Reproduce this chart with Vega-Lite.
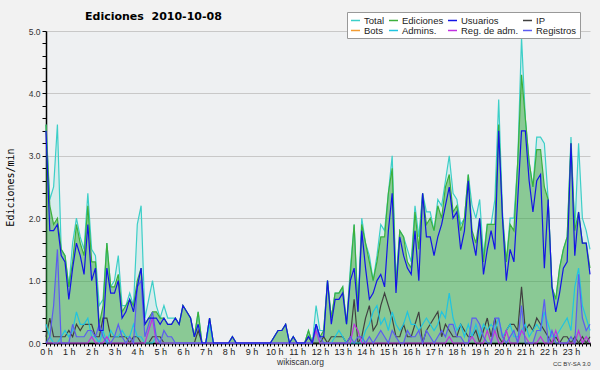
{
  "$schema": "https://vega.github.io/schema/vega-lite/v6.json",
  "autosize": "none",
  "width": 544,
  "height": 312,
  "padding": {"left": 46, "top": 31, "right": 10, "bottom": 27},
  "background": "#f2f2f2",
  "config": {
    "view": {"fill": "#eef0f2", "stroke": null},
    "font": "Liberation Sans"
  },
  "title": {
    "text": "Ediciones\u00a0 2010-10-08",
    "anchor": "start",
    "frame": "group",
    "dx": 39,
    "offset": -19,
    "baseline": "alphabetic",
    "font": "DejaVu Sans",
    "fontSize": 11,
    "fontWeight": "bold",
    "color": "#000"
  },
  "data": {"values": [
    {"t":0,"Total":3.5,"Ediciones":3.5,"Usuarios":3.4,"IP":0.1,"Admins":0.3,"RegAdm":0,"Registros":0},
    {"t":10,"Total":2.3,"Ediciones":2.2,"Usuarios":1.8,"IP":0.4,"Admins":0.1,"RegAdm":0,"Registros":0.1},
    {"t":20,"Total":2.5,"Ediciones":1.9,"Usuarios":1.8,"IP":0.1,"Admins":0,"RegAdm":0,"Registros":0.6},
    {"t":30,"Total":3.5,"Ediciones":2.0,"Usuarios":1.9,"IP":0.1,"Admins":0,"RegAdm":0,"Registros":1.5},
    {"t":40,"Total":1.5,"Ediciones":1.5,"Usuarios":1.4,"IP":0.1,"Admins":0.1,"RegAdm":0,"Registros":0},
    {"t":50,"Total":1.4,"Ediciones":1.4,"Usuarios":1.3,"IP":0.1,"Admins":0.2,"RegAdm":0,"Registros":0},
    {"t":60,"Total":0.9,"Ediciones":0.9,"Usuarios":0.7,"IP":0.2,"Admins":0.1,"RegAdm":0,"Registros":0},
    {"t":70,"Total":1.6,"Ediciones":1.3,"Usuarios":1.2,"IP":0.1,"Admins":0.2,"RegAdm":0,"Registros":0.3},
    {"t":80,"Total":2.0,"Ediciones":1.9,"Usuarios":1.6,"IP":0.3,"Admins":0.5,"RegAdm":0,"Registros":0.1},
    {"t":90,"Total":1.7,"Ediciones":1.6,"Usuarios":1.4,"IP":0.2,"Admins":0.3,"RegAdm":0,"Registros":0.1},
    {"t":100,"Total":1.5,"Ediciones":1.4,"Usuarios":1.1,"IP":0.3,"Admins":0.3,"RegAdm":0,"Registros":0.1},
    {"t":110,"Total":2.4,"Ediciones":2.2,"Usuarios":1.9,"IP":0.3,"Admins":0.4,"RegAdm":0,"Registros":0.2},
    {"t":120,"Total":1.5,"Ediciones":1.3,"Usuarios":1.0,"IP":0.3,"Admins":0.1,"RegAdm":0.1,"Registros":0.2},
    {"t":130,"Total":1.4,"Ediciones":1.3,"Usuarios":1.2,"IP":0.1,"Admins":0.1,"RegAdm":0,"Registros":0.1},
    {"t":140,"Total":0.6,"Ediciones":0.3,"Usuarios":0.2,"IP":0.1,"Admins":0,"RegAdm":0,"Registros":0.3},
    {"t":150,"Total":0.7,"Ediciones":0.6,"Usuarios":0.2,"IP":0.4,"Admins":0.2,"RegAdm":0,"Registros":0.1},
    {"t":160,"Total":1.6,"Ediciones":1.6,"Usuarios":1.2,"IP":0.4,"Admins":0,"RegAdm":0.1,"Registros":0},
    {"t":170,"Total":0.9,"Ediciones":0.9,"Usuarios":0.8,"IP":0.1,"Admins":0.2,"RegAdm":0,"Registros":0},
    {"t":180,"Total":1.0,"Ediciones":0.9,"Usuarios":0.8,"IP":0.1,"Admins":0.1,"RegAdm":0,"Registros":0.1},
    {"t":190,"Total":1.4,"Ediciones":1.1,"Usuarios":1.0,"IP":0.1,"Admins":0.1,"RegAdm":0,"Registros":0.3},
    {"t":200,"Total":0.6,"Ediciones":0.5,"Usuarios":0.4,"IP":0.1,"Admins":0.2,"RegAdm":0,"Registros":0.1},
    {"t":210,"Total":0.6,"Ediciones":0.6,"Usuarios":0.5,"IP":0.1,"Admins":0.1,"RegAdm":0,"Registros":0},
    {"t":220,"Total":0.8,"Ediciones":0.7,"Usuarios":0.7,"IP":0,"Admins":0.1,"RegAdm":0,"Registros":0.1},
    {"t":230,"Total":0.6,"Ediciones":0.6,"Usuarios":0.5,"IP":0.1,"Admins":0.3,"RegAdm":0,"Registros":0},
    {"t":240,"Total":1.9,"Ediciones":1.0,"Usuarios":0.9,"IP":0.1,"Admins":0.1,"RegAdm":0,"Registros":0.9},
    {"t":250,"Total":2.2,"Ediciones":1.2,"Usuarios":1.2,"IP":0,"Admins":0.1,"RegAdm":0,"Registros":1.0},
    {"t":260,"Total":0.4,"Ediciones":0.3,"Usuarios":0.3,"IP":0,"Admins":0,"RegAdm":0,"Registros":0.1},
    {"t":270,"Total":0.7,"Ediciones":0.4,"Usuarios":0.4,"IP":0,"Admins":0,"RegAdm":0.2,"Registros":0.3},
    {"t":280,"Total":1.0,"Ediciones":0.5,"Usuarios":0.4,"IP":0.1,"Admins":0,"RegAdm":0.4,"Registros":0.5},
    {"t":290,"Total":0.6,"Ediciones":0.5,"Usuarios":0.4,"IP":0.1,"Admins":0.1,"RegAdm":0,"Registros":0.1},
    {"t":300,"Total":0.4,"Ediciones":0.4,"Usuarios":0.3,"IP":0.1,"Admins":0,"RegAdm":0,"Registros":0},
    {"t":310,"Total":0.6,"Ediciones":0.4,"Usuarios":0.4,"IP":0,"Admins":0,"RegAdm":0,"Registros":0.2},
    {"t":320,"Total":0.4,"Ediciones":0.3,"Usuarios":0.3,"IP":0,"Admins":0,"RegAdm":0,"Registros":0.1},
    {"t":330,"Total":0.4,"Ediciones":0.3,"Usuarios":0.3,"IP":0,"Admins":0,"RegAdm":0,"Registros":0.1},
    {"t":340,"Total":0.4,"Ediciones":0.4,"Usuarios":0.4,"IP":0,"Admins":0,"RegAdm":0,"Registros":0},
    {"t":350,"Total":0.3,"Ediciones":0.3,"Usuarios":0.3,"IP":0,"Admins":0,"RegAdm":0,"Registros":0},
    {"t":360,"Total":0.6,"Ediciones":0.6,"Usuarios":0.6,"IP":0,"Admins":0,"RegAdm":0,"Registros":0},
    {"t":370,"Total":0.5,"Ediciones":0.5,"Usuarios":0.5,"IP":0,"Admins":0,"RegAdm":0,"Registros":0},
    {"t":380,"Total":0.4,"Ediciones":0.4,"Usuarios":0.4,"IP":0,"Admins":0,"RegAdm":0,"Registros":0},
    {"t":390,"Total":0.1,"Ediciones":0.1,"Usuarios":0.1,"IP":0,"Admins":0,"RegAdm":0,"Registros":0},
    {"t":400,"Total":0.5,"Ediciones":0.5,"Usuarios":0.3,"IP":0.2,"Admins":0,"RegAdm":0,"Registros":0},
    {"t":410,"Total":0,"Ediciones":0,"Usuarios":0,"IP":0,"Admins":0,"RegAdm":0,"Registros":0},
    {"t":420,"Total":0,"Ediciones":0,"Usuarios":0,"IP":0,"Admins":0,"RegAdm":0,"Registros":0},
    {"t":430,"Total":0.4,"Ediciones":0.4,"Usuarios":0.4,"IP":0,"Admins":0.3,"RegAdm":0,"Registros":0},
    {"t":440,"Total":0,"Ediciones":0,"Usuarios":0,"IP":0,"Admins":0,"RegAdm":0,"Registros":0},
    {"t":450,"Total":0,"Ediciones":0,"Usuarios":0,"IP":0,"Admins":0,"RegAdm":0,"Registros":0},
    {"t":460,"Total":0,"Ediciones":0,"Usuarios":0,"IP":0,"Admins":0,"RegAdm":0,"Registros":0},
    {"t":470,"Total":0,"Ediciones":0,"Usuarios":0,"IP":0,"Admins":0,"RegAdm":0,"Registros":0},
    {"t":480,"Total":0,"Ediciones":0,"Usuarios":0,"IP":0,"Admins":0,"RegAdm":0,"Registros":0},
    {"t":490,"Total":0.1,"Ediciones":0.1,"Usuarios":0.1,"IP":0,"Admins":0,"RegAdm":0,"Registros":0},
    {"t":500,"Total":0,"Ediciones":0,"Usuarios":0,"IP":0,"Admins":0,"RegAdm":0,"Registros":0},
    {"t":510,"Total":0,"Ediciones":0,"Usuarios":0,"IP":0,"Admins":0,"RegAdm":0,"Registros":0},
    {"t":520,"Total":0,"Ediciones":0,"Usuarios":0,"IP":0,"Admins":0,"RegAdm":0,"Registros":0},
    {"t":530,"Total":0,"Ediciones":0,"Usuarios":0,"IP":0,"Admins":0,"RegAdm":0,"Registros":0},
    {"t":540,"Total":0,"Ediciones":0,"Usuarios":0,"IP":0,"Admins":0,"RegAdm":0,"Registros":0},
    {"t":550,"Total":0,"Ediciones":0,"Usuarios":0,"IP":0,"Admins":0,"RegAdm":0,"Registros":0},
    {"t":560,"Total":0,"Ediciones":0,"Usuarios":0,"IP":0,"Admins":0,"RegAdm":0,"Registros":0},
    {"t":570,"Total":0,"Ediciones":0,"Usuarios":0,"IP":0,"Admins":0,"RegAdm":0,"Registros":0},
    {"t":580,"Total":0,"Ediciones":0,"Usuarios":0,"IP":0,"Admins":0,"RegAdm":0,"Registros":0},
    {"t":590,"Total":0,"Ediciones":0,"Usuarios":0,"IP":0,"Admins":0,"RegAdm":0,"Registros":0},
    {"t":600,"Total":0.1,"Ediciones":0.1,"Usuarios":0.1,"IP":0,"Admins":0,"RegAdm":0,"Registros":0},
    {"t":610,"Total":0.2,"Ediciones":0.2,"Usuarios":0.2,"IP":0,"Admins":0,"RegAdm":0,"Registros":0},
    {"t":620,"Total":0.2,"Ediciones":0.2,"Usuarios":0.2,"IP":0,"Admins":0,"RegAdm":0,"Registros":0},
    {"t":630,"Total":0.3,"Ediciones":0.3,"Usuarios":0.3,"IP":0,"Admins":0,"RegAdm":0,"Registros":0},
    {"t":640,"Total":0,"Ediciones":0,"Usuarios":0,"IP":0,"Admins":0,"RegAdm":0,"Registros":0},
    {"t":650,"Total":0.1,"Ediciones":0.1,"Usuarios":0.1,"IP":0,"Admins":0,"RegAdm":0,"Registros":0},
    {"t":660,"Total":0,"Ediciones":0,"Usuarios":0,"IP":0,"Admins":0,"RegAdm":0,"Registros":0},
    {"t":670,"Total":0,"Ediciones":0,"Usuarios":0,"IP":0,"Admins":0,"RegAdm":0,"Registros":0},
    {"t":680,"Total":0,"Ediciones":0,"Usuarios":0,"IP":0,"Admins":0,"RegAdm":0,"Registros":0},
    {"t":690,"Total":0.2,"Ediciones":0.2,"Usuarios":0.1,"IP":0.1,"Admins":0,"RegAdm":0,"Registros":0},
    {"t":700,"Total":0,"Ediciones":0,"Usuarios":0,"IP":0,"Admins":0,"RegAdm":0,"Registros":0},
    {"t":710,"Total":0.6,"Ediciones":0.3,"Usuarios":0.3,"IP":0,"Admins":0.3,"RegAdm":0.2,"Registros":0.3},
    {"t":720,"Total":0.2,"Ediciones":0.1,"Usuarios":0.1,"IP":0,"Admins":0,"RegAdm":0,"Registros":0.1},
    {"t":730,"Total":0.2,"Ediciones":0.2,"Usuarios":0.1,"IP":0.1,"Admins":0,"RegAdm":0,"Registros":0},
    {"t":740,"Total":1.0,"Ediciones":1.0,"Usuarios":1.0,"IP":0,"Admins":0,"RegAdm":0,"Registros":0},
    {"t":750,"Total":0.4,"Ediciones":0.4,"Usuarios":0.3,"IP":0.1,"Admins":0,"RegAdm":0,"Registros":0},
    {"t":760,"Total":0.8,"Ediciones":0.8,"Usuarios":0.7,"IP":0.1,"Admins":0.1,"RegAdm":0,"Registros":0},
    {"t":770,"Total":0.8,"Ediciones":0.8,"Usuarios":0.7,"IP":0.1,"Admins":0.2,"RegAdm":0,"Registros":0},
    {"t":780,"Total":0.9,"Ediciones":0.9,"Usuarios":0.8,"IP":0.1,"Admins":0.1,"RegAdm":0,"Registros":0},
    {"t":790,"Total":0.3,"Ediciones":0.3,"Usuarios":0.3,"IP":0,"Admins":0,"RegAdm":0,"Registros":0},
    {"t":800,"Total":1.2,"Ediciones":1.1,"Usuarios":1.0,"IP":0.1,"Admins":0,"RegAdm":0,"Registros":0.1},
    {"t":810,"Total":1.9,"Ediciones":1.9,"Usuarios":1.2,"IP":0.7,"Admins":0,"RegAdm":0.3,"Registros":0},
    {"t":820,"Total":0.6,"Ediciones":0.5,"Usuarios":0.5,"IP":0,"Admins":0,"RegAdm":0.2,"Registros":0.1},
    {"t":830,"Total":2.0,"Ediciones":1.9,"Usuarios":1.8,"IP":0.1,"Admins":0,"RegAdm":0,"Registros":0.1},
    {"t":840,"Total":1.6,"Ediciones":1.6,"Usuarios":1.2,"IP":0.4,"Admins":0.2,"RegAdm":0,"Registros":0},
    {"t":850,"Total":1.4,"Ediciones":1.3,"Usuarios":0.7,"IP":0.6,"Admins":0.3,"RegAdm":0,"Registros":0.1},
    {"t":860,"Total":1.0,"Ediciones":1.0,"Usuarios":0.8,"IP":0.2,"Admins":0.5,"RegAdm":0,"Registros":0},
    {"t":870,"Total":1.4,"Ediciones":1.3,"Usuarios":1.0,"IP":0.3,"Admins":0.6,"RegAdm":0,"Registros":0.1},
    {"t":880,"Total":1.9,"Ediciones":1.7,"Usuarios":1.1,"IP":0.6,"Admins":0.3,"RegAdm":0,"Registros":0.2},
    {"t":890,"Total":1.8,"Ediciones":1.7,"Usuarios":0.9,"IP":0.8,"Admins":0.4,"RegAdm":0,"Registros":0.1},
    {"t":900,"Total":2.4,"Ediciones":2.4,"Usuarios":1.8,"IP":0.6,"Admins":0.2,"RegAdm":0,"Registros":0},
    {"t":910,"Total":3.0,"Ediciones":2.8,"Usuarios":2.4,"IP":0.4,"Admins":0.5,"RegAdm":0,"Registros":0.2},
    {"t":920,"Total":1.0,"Ediciones":0.9,"Usuarios":0.8,"IP":0.1,"Admins":0.3,"RegAdm":0,"Registros":0.1},
    {"t":930,"Total":1.8,"Ediciones":1.8,"Usuarios":1.7,"IP":0.1,"Admins":0.2,"RegAdm":0,"Registros":0},
    {"t":940,"Total":1.7,"Ediciones":1.7,"Usuarios":1.4,"IP":0.3,"Admins":0.3,"RegAdm":0,"Registros":0},
    {"t":950,"Total":1.5,"Ediciones":1.3,"Usuarios":1.2,"IP":0.1,"Admins":0.5,"RegAdm":0,"Registros":0.2},
    {"t":960,"Total":1.3,"Ediciones":1.2,"Usuarios":1.1,"IP":0.1,"Admins":0.3,"RegAdm":0,"Registros":0.1},
    {"t":970,"Total":2.2,"Ediciones":2.1,"Usuarios":1.8,"IP":0.3,"Admins":0.3,"RegAdm":0,"Registros":0.1},
    {"t":980,"Total":1.7,"Ediciones":1.5,"Usuarios":1.0,"IP":0.5,"Admins":0.2,"RegAdm":0,"Registros":0.2},
    {"t":990,"Total":2.4,"Ediciones":2.4,"Usuarios":2.4,"IP":0,"Admins":0.3,"RegAdm":0,"Registros":0},
    {"t":1000,"Total":2.1,"Ediciones":1.9,"Usuarios":1.7,"IP":0.2,"Admins":0.4,"RegAdm":0,"Registros":0.2},
    {"t":1010,"Total":2.1,"Ediciones":2.0,"Usuarios":1.7,"IP":0.3,"Admins":0.3,"RegAdm":0,"Registros":0.1},
    {"t":1020,"Total":1.8,"Ediciones":1.8,"Usuarios":1.4,"IP":0.4,"Admins":0.2,"RegAdm":0,"Registros":0},
    {"t":1030,"Total":2.3,"Ediciones":2.2,"Usuarios":1.7,"IP":0.5,"Admins":0.3,"RegAdm":0,"Registros":0.1},
    {"t":1040,"Total":2.2,"Ediciones":2.0,"Usuarios":1.9,"IP":0.1,"Admins":0.5,"RegAdm":0,"Registros":0.2},
    {"t":1050,"Total":2.6,"Ediciones":2.5,"Usuarios":2.2,"IP":0.3,"Admins":0.4,"RegAdm":0,"Registros":0.1},
    {"t":1060,"Total":3.0,"Ediciones":2.7,"Usuarios":2.5,"IP":0.2,"Admins":0.8,"RegAdm":0.1,"Registros":0.3},
    {"t":1070,"Total":2.4,"Ediciones":2.1,"Usuarios":2.0,"IP":0.1,"Admins":0.4,"RegAdm":0,"Registros":0.3},
    {"t":1080,"Total":2.3,"Ediciones":2.2,"Usuarios":2.1,"IP":0.1,"Admins":0.2,"RegAdm":0,"Registros":0.1},
    {"t":1090,"Total":1.9,"Ediciones":1.8,"Usuarios":1.5,"IP":0.3,"Admins":0.3,"RegAdm":0,"Registros":0.1},
    {"t":1100,"Total":2.0,"Ediciones":2.0,"Usuarios":1.8,"IP":0.2,"Admins":0.1,"RegAdm":0,"Registros":0},
    {"t":1110,"Total":2.7,"Ediciones":2.7,"Usuarios":2.6,"IP":0.1,"Admins":0.3,"RegAdm":0,"Registros":0},
    {"t":1120,"Total":2.2,"Ediciones":1.8,"Usuarios":1.7,"IP":0.1,"Admins":0.1,"RegAdm":0.1,"Registros":0.4},
    {"t":1130,"Total":2.0,"Ediciones":1.6,"Usuarios":1.4,"IP":0.2,"Admins":0.3,"RegAdm":0,"Registros":0.4},
    {"t":1140,"Total":2.3,"Ediciones":2.0,"Usuarios":2.0,"IP":0,"Admins":0.1,"RegAdm":0,"Registros":0.3},
    {"t":1150,"Total":1.4,"Ediciones":1.3,"Usuarios":1.1,"IP":0.2,"Admins":0.3,"RegAdm":0,"Registros":0.1},
    {"t":1160,"Total":1.9,"Ediciones":1.9,"Usuarios":1.5,"IP":0.4,"Admins":0.2,"RegAdm":0.2,"Registros":0},
    {"t":1170,"Total":1.9,"Ediciones":1.9,"Usuarios":1.8,"IP":0.1,"Admins":0.3,"RegAdm":0,"Registros":0},
    {"t":1180,"Total":2.3,"Ediciones":1.9,"Usuarios":1.5,"IP":0.4,"Admins":0.2,"RegAdm":0.2,"Registros":0.4},
    {"t":1190,"Total":3.9,"Ediciones":3.5,"Usuarios":3.4,"IP":0.1,"Admins":0.4,"RegAdm":0,"Registros":0.4},
    {"t":1200,"Total":2.1,"Ediciones":2.0,"Usuarios":2.0,"IP":0,"Admins":0.1,"RegAdm":0,"Registros":0.1},
    {"t":1210,"Total":1.3,"Ediciones":1.3,"Usuarios":1.0,"IP":0.2,"Admins":0.2,"RegAdm":0.2,"Registros":0},
    {"t":1220,"Total":2.0,"Ediciones":1.9,"Usuarios":1.5,"IP":0.3,"Admins":0.3,"RegAdm":0,"Registros":0.1},
    {"t":1230,"Total":2.0,"Ediciones":1.8,"Usuarios":1.3,"IP":0.3,"Admins":0.1,"RegAdm":0,"Registros":0.2},
    {"t":1240,"Total":2.9,"Ediciones":2.9,"Usuarios":2.3,"IP":0.2,"Admins":0.1,"RegAdm":0,"Registros":0},
    {"t":1250,"Total":4.9,"Ediciones":4.3,"Usuarios":3.4,"IP":0.9,"Admins":0.2,"RegAdm":0.2,"Registros":0.6},
    {"t":1260,"Total":3.6,"Ediciones":3.6,"Usuarios":3.4,"IP":0.2,"Admins":0.3,"RegAdm":0.1,"Registros":0},
    {"t":1270,"Total":2.9,"Ediciones":2.9,"Usuarios":2.6,"IP":0.3,"Admins":0.1,"RegAdm":0,"Registros":0},
    {"t":1280,"Total":2.5,"Ediciones":2.5,"Usuarios":2.1,"IP":0.2,"Admins":0.2,"RegAdm":0,"Registros":0},
    {"t":1290,"Total":3.3,"Ediciones":3.1,"Usuarios":2.6,"IP":0.4,"Admins":0.3,"RegAdm":0,"Registros":0.2},
    {"t":1300,"Total":3.3,"Ediciones":3.1,"Usuarios":2.7,"IP":0.3,"Admins":0.2,"RegAdm":0.1,"Registros":0.2},
    {"t":1310,"Total":3.2,"Ediciones":2.5,"Usuarios":1.2,"IP":0.2,"Admins":0.5,"RegAdm":0,"Registros":0.7},
    {"t":1320,"Total":2.3,"Ediciones":2.3,"Usuarios":2.3,"IP":0.1,"Admins":0.3,"RegAdm":0,"Registros":0},
    {"t":1330,"Total":0.9,"Ediciones":0.9,"Usuarios":0.9,"IP":0,"Admins":0.1,"RegAdm":0,"Registros":0.2},
    {"t":1340,"Total":0.7,"Ediciones":0.7,"Usuarios":0.5,"IP":0.1,"Admins":0.1,"RegAdm":0.2,"Registros":0},
    {"t":1350,"Total":1.2,"Ediciones":1.2,"Usuarios":0.8,"IP":0,"Admins":0.2,"RegAdm":0,"Registros":0},
    {"t":1360,"Total":1.5,"Ediciones":1.5,"Usuarios":1.2,"IP":0.1,"Admins":0.3,"RegAdm":0,"Registros":0},
    {"t":1370,"Total":1.7,"Ediciones":1.7,"Usuarios":1.3,"IP":0.1,"Admins":0.4,"RegAdm":0,"Registros":0},
    {"t":1380,"Total":3.3,"Ediciones":3.2,"Usuarios":3.2,"IP":0,"Admins":0.2,"RegAdm":0,"Registros":0.1},
    {"t":1390,"Total":1.8,"Ediciones":1.8,"Usuarios":1.4,"IP":0.1,"Admins":0.9,"RegAdm":0,"Registros":0},
    {"t":1400,"Total":3.2,"Ediciones":2.1,"Usuarios":2.1,"IP":0,"Admins":1.2,"RegAdm":0.2,"Registros":1.1},
    {"t":1410,"Total":2.0,"Ediciones":1.6,"Usuarios":1.6,"IP":0.1,"Admins":0.6,"RegAdm":0,"Registros":0.4},
    {"t":1420,"Total":1.8,"Ediciones":1.6,"Usuarios":1.6,"IP":0,"Admins":0.4,"RegAdm":0.1,"Registros":0.2},
    {"t":1430,"Total":1.5,"Ediciones":1.2,"Usuarios":1.1,"IP":0.1,"Admins":0.2,"RegAdm":0,"Registros":0.3}
  ]},
  "encoding": {
    "x": {
      "field": "t",
      "type": "quantitative",
      "scale": {"domain": [0, 1430], "nice": false, "zero": false},
      "axis": {
        "values": [0,10,20,30,40,50,60,70,80,90,100,110,120,130,140,150,160,170,180,190,200,210,220,230,240,250,260,270,280,290,300,310,320,330,340,350,360,370,380,390,400,410,420,430,440,450,460,470,480,490,500,510,520,530,540,550,560,570,580,590,600,610,620,630,640,650,660,670,680,690,700,710,720,730,740,750,760,770,780,790,800,810,820,830,840,850,860,870,880,890,900,910,920,930,940,950,960,970,980,990,1000,1010,1020,1030,1040,1050,1060,1070,1080,1090,1100,1110,1120,1130,1140,1150,1160,1170,1180,1190,1200,1210,1220,1230,1240,1250,1260,1270,1280,1290,1300,1310,1320,1330,1340,1350,1360,1370,1380,1390,1400,1410,1420,1430],
        "labelExpr": "datum.value % 60 === 0 ? (datum.value / 60) + ' h' : ''",
        "labelFlush": false,
        "labelOverlap": false,
        "labelBound": false,
        "labelFont": "Liberation Sans",
        "labelFontSize": 9,
        "labelColor": "#222",
        "labelPadding": 1,
        "tickSize": 3,
        "tickColor": "#000",
        "tickWidth": 1,
        "domainColor": "#000",
        "domainWidth": 2,
        "grid": false,
        "title": "wikiscan.org",
        "titleFont": "Liberation Sans",
        "titleFontSize": 8.5,
        "titleFontWeight": "normal",
        "titleColor": "#333",
        "titleX": 254,
        "titleY": 21,
        "titleAlign": "center",
        "titleBaseline": "alphabetic"
      }
    }
  },
  "layer": [
    {
      "mark": {"type": "area", "color": "#40d0c8", "opacity": 0.13},
      "encoding": {
        "y": {
          "field": "Total",
          "type": "quantitative",
          "scale": {"domain": [0, 5], "nice": false},
          "axis": {
            "orient": "left",
            "values": [0,0.2,0.4,0.6,0.8,1,1.2,1.4,1.6,1.8,2,2.2,2.4,2.6,2.8,3,3.2,3.4,3.6,3.8,4,4.2,4.4,4.6,4.8,5],
            "labelExpr": "abs(datum.value - round(datum.value)) < 0.001 ? format(datum.value, '.1f') : ''",
            "labelFont": "Liberation Sans",
            "labelFontSize": 8.5,
            "labelColor": "#333",
            "labelPadding": 2,
            "labelOverlap": false,
            "labelFlush": false,
            "tickSize": 4,
            "tickColor": "#000",
            "domainColor": "#000",
            "domainWidth": 1.5,
            "grid": true,
            "gridColor": "#c8c8c8",
            "gridWidth": 1,
            "gridOpacity": {"condition": {"test": "abs(datum.value - round(datum.value)) < 0.001", "value": 1}, "value": 0},
            "title": "Ediciones/min",
            "titleFont": "DejaVu Sans Mono",
            "titleFontSize": 10,
            "titleFontWeight": "normal",
            "titleColor": "#000",
            "titleAngle": -90,
            "titleX": -33,
            "titleY": 156,
            "titleAlign": "center",
            "titleBaseline": "alphabetic"
          }
        }
      }
    },
    {
      "mark": {"type": "area", "color": "#2ca02c", "opacity": 0.45},
      "encoding": {"y": {"field": "Ediciones", "type": "quantitative", "axis": null}}
    },
    {
      "mark": {"type": "area", "color": "#5a5af0", "opacity": 0.15},
      "encoding": {"y": {"field": "Registros", "type": "quantitative", "axis": null}}
    },
    {
      "transform": [
        {"fold": ["Total", "Ediciones", "IP", "Admins", "RegAdm", "Registros", "Usuarios"], "as": ["serie", "valor"]}
      ],
      "mark": {"type": "line", "interpolate": "linear"},
      "encoding": {
        "y": {
          "field": "valor",
          "type": "quantitative",
          "axis": {
            "orient": "right",
            "domain": false,
            "ticks": false,
            "labels": false,
            "grid": false,
            "title": "CC BY-SA 3.0",
            "titleAngle": 0,
            "titleX": 0,
            "titleY": 334,
            "titleAlign": "right",
            "titleBaseline": "alphabetic",
            "titleFont": "Liberation Sans",
            "titleFontSize": 6,
            "titleFontWeight": "normal",
            "titleColor": "#333"
          }
        },
        "color": {
          "field": "serie",
          "type": "nominal",
          "scale": {
            "domain": ["Total", "Ediciones", "Usuarios", "IP", "Bots", "Admins", "RegAdm", "Registros"],
            "range": ["#3ccfc8", "#3cb03c", "#1414e6", "#404040", "#f39c32", "#20c4e0", "#c030e0", "#5c5cf0"]
          },
          "legend": {
            "orient": "none",
            "legendX": 301,
            "legendY": -19,
            "title": null,
            "columns": 4,
            "direction": "horizontal",
            "symbolType": "stroke",
            "symbolSize": 81,
            "symbolStrokeWidth": 1.5,
            "labelFont": "Liberation Sans",
            "labelFontSize": 9.5,
            "labelColor": "#222",
            "labelOffset": 3,
            "labelExpr": "datum.label === 'RegAdm' ? 'Reg. de adm.' : (datum.label === 'Admins' ? 'Admins.' : datum.label)",
            "columnPadding": 1,
            "rowPadding": 0,
            "padding": 3,
            "fillColor": "#ffffff",
            "strokeColor": "#999999"
          }
        },
        "strokeWidth": {
          "field": "serie",
          "type": "nominal",
          "scale": {
            "domain": ["Total", "Ediciones", "Usuarios", "IP", "Admins", "RegAdm", "Registros"],
            "range": [1.2, 1.2, 1.5, 1, 1, 1, 1]
          },
          "legend": null
        }
      }
    }
  ],
  "resolve": {"axis": {"y": "independent"}}
}
